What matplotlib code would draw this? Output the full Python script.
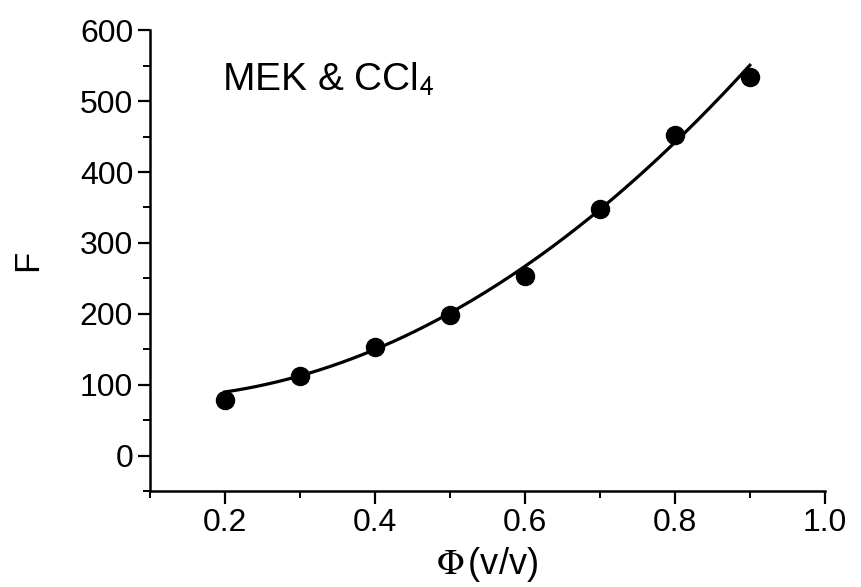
import numpy as np
import matplotlib
matplotlib.use("Agg")
import matplotlib.pyplot as plt
from matplotlib.ticker import MultipleLocator

plt.rcParams['font.family'] = ['Liberation Sans', 'DejaVu Sans']
plt.rcParams['mathtext.fontset'] = 'stix'

# Volume fraction and measured F values
phi = [0.2, 0.3, 0.4, 0.5, 0.6, 0.7, 0.8, 0.9]
F_values = [78, 112, 153, 199, 254, 348, 452, 534]
# Values of the fitted trend line at the same fractions
F_trend = [87, 116, 153, 199, 261, 346, 450, 547]

x_ticks = [0.2, 0.4, 0.6, 0.8, 1.0]
y_ticks = [0, 100, 200, 300, 400, 500, 600]

# Smooth quadratic trend through the fitted values
coef = np.polyfit(phi, F_trend, 2)
xf = np.linspace(phi[0], phi[-1], 200)
yf = np.polyval(coef, xf)

fig = plt.figure(figsize=(8.61, 5.87), dpi=100)
ax = fig.add_axes([0.174, 0.1635, 0.784, 0.785])

ax.plot(xf, yf, color='black', lw=2.3, zorder=2)
ax.plot(phi, F_values, 'o', color='black', ms=13, zorder=3)

ax.set_xlim(0.1, 1.0)
ax.set_ylim(-50, 600)
ax.set_xticks(x_ticks)
ax.set_xticklabels([f"{v:.1f}" for v in x_ticks])
ax.set_yticks(y_ticks)
ax.xaxis.set_minor_locator(MultipleLocator(0.1))
ax.yaxis.set_minor_locator(MultipleLocator(50))

for s in ['top', 'right']:
    ax.spines[s].set_visible(False)
for s in ['left', 'bottom']:
    ax.spines[s].set_linewidth(1.8)

ax.tick_params(which='major', direction='out', length=9, width=1.6,
               labelsize=23, pad=3)
ax.tick_params(which='minor', direction='out', length=5, width=1.4)

ax.set_xlabel(r'$\Phi\,$(v/v)', fontsize=26, labelpad=5)
ax.set_ylabel('F', fontsize=25, labelpad=26)

ax.text(0.196, 530, r'MEK & CCl$_\mathsf{4}$', fontsize=28, ha='left', va='center')

fig.savefig('out.png', dpi=100)
